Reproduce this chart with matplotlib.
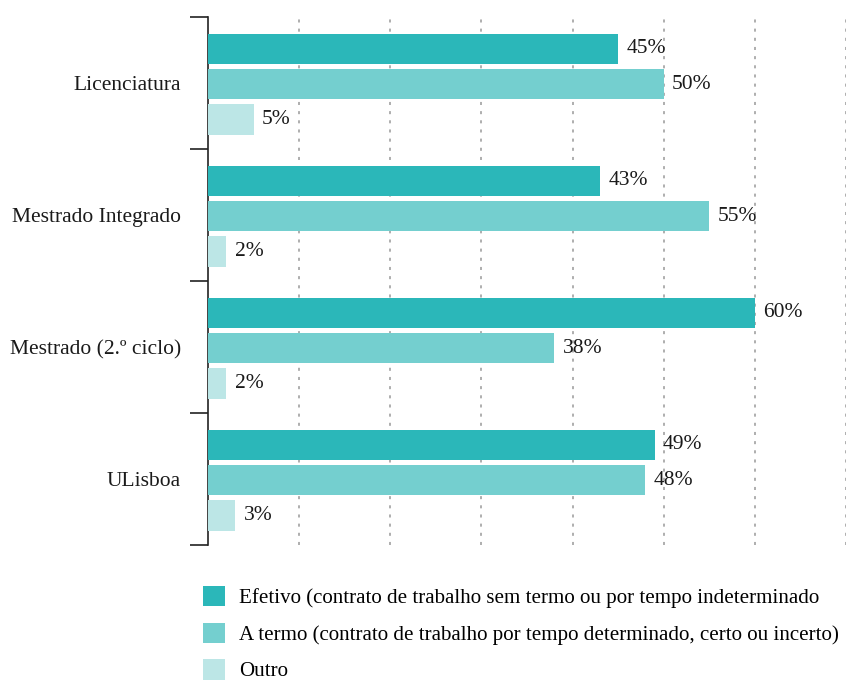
import matplotlib
matplotlib.use("Agg")
import matplotlib.pyplot as plt
import numpy as np
from matplotlib.patches import Patch

categories = ["Licenciatura", "Mestrado Integrado", "Mestrado (2.º ciclo)", "ULisboa"]
series_names = [
    "Efetivo (contrato de trabalho sem termo ou por tempo indeterminado",
    "A termo (contrato de trabalho por tempo determinado, certo ou incerto)",
    "Outro",
]
efetivo = [45, 43, 60, 49]
a_termo = [50, 55, 38, 48]
outro = [5, 2, 2, 3]
colors = ["#2bb7b9", "#74cfcf", "#bce6e6"]

plt.rcParams["font.family"] = ["Liberation Serif", "DejaVu Serif"]
fs = 15.5
lfs = 15.1

fig = plt.figure(figsize=(8.5, 6.84), dpi=100)
ax = fig.add_axes([208/850, 1-545/684, (846-208)/850, (545-17)/684])

y = np.arange(len(categories))
bh = 0.233
step = 0.266
for i, (vals, col) in enumerate(zip([efetivo, a_termo, outro], colors)):
    pos = y + (i - 1) * step + 0.008
    ax.barh(pos, vals, height=bh, color=col, zorder=3)
    for p, v in zip(pos, vals):
        ax.annotate(f"{v}%", (v, p), xytext=(6, 0), textcoords="offset points",
                    va="center", ha="left", fontsize=fs, color="#1a1a1a", zorder=4)

ax.set_xlim(0, 70)
ax.set_ylim(len(categories) - 0.5, -0.5)
ax.set_xticks(np.arange(10, 71, 10))
ax.tick_params(axis="x", length=0, labelbottom=False)
ax.grid(axis="x", color="#999999", linestyle=(0, (2, 4)), linewidth=1.1, zorder=0)

ax.set_yticks(np.arange(-0.5, len(categories), 1.0))
ax.set_yticks(y, minor=True)
ax.set_yticklabels([""] * (len(categories) + 1))
ax.set_yticklabels(categories, minor=True, fontsize=fs, color="#1a1a1a")
ax.tick_params(axis="y", which="major", length=13, width=1.2, color="#222222")
ax.tick_params(axis="y", which="minor", length=0, pad=19.5)

for s in ["top", "right", "bottom"]:
    ax.spines[s].set_visible(False)
ax.spines["left"].set_linewidth(1.2)
ax.spines["left"].set_color("#222222")

handles = [Patch(facecolor=c, edgecolor="none") for c in colors]
fig.legend(handles, series_names, loc="upper left",
           bbox_to_anchor=(203/850, 1-586/684), frameon=False, fontsize=lfs,
           handlelength=1.06, handleheight=1.12, handletextpad=0.68,
           labelspacing=0.68, borderaxespad=0, borderpad=0)

fig.savefig("out.png", dpi=100)
